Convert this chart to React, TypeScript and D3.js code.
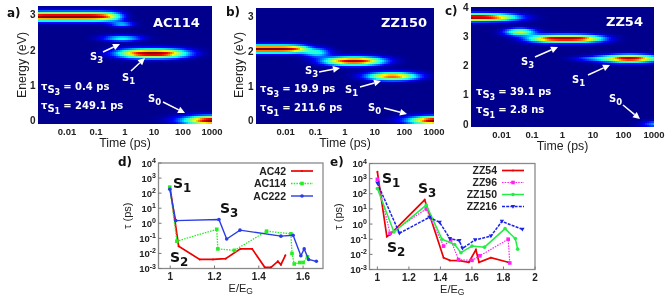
import React from "react";
import * as d3 from "d3";

type Blob = [number, number, number, number, number, number];
// [log10 time centre, energy, time half-width, energy sigma, amplitude, flatness]
const blobsA: Blob[] = [
  [-2.0, 2.95, 1.9, 0.09, 1.0, 6],
  [-0.1, 2.73, 0.45, 0.055, 0.3, 2],
  [-0.1, 2.33, 0.75, 0.06, 0.38, 2],
  [0.95, 1.9, 1.3, 0.09, 1.0, 2.6],
  [3.0, 0.0, 1.1, 0.09, 1.0, 2],
];
const blobsB: Blob[] = [
  [-2.6, 2.07, 1.4, 0.08, 1.0, 5],
  [-0.95, 1.97, 0.5, 0.09, 0.4, 2],
  [0.3, 1.72, 1.1, 0.085, 0.95, 2.4],
  [1.6, 1.28, 0.95, 0.08, 0.82, 2.2],
  [3.05, 0.0, 1.0, 0.085, 1.0, 2],
];
const blobsC: Blob[] = [
  [-3.0, 3.65, 1.6, 0.09, 1.0, 3],
  [-1.4, 3.15, 0.55, 0.085, 0.6, 2],
  [0.1, 2.92, 1.3, 0.09, 0.98, 3],
  [2.2, 2.24, 1.05, 0.09, 0.97, 2],
  [0.9, 2.24, 0.7, 0.05, 0.15, 2],
  [3.1, 0.0, 0.55, 0.08, 0.28, 2],
];

const timeTicks = [0.01, 0.1, 1, 10, 100, 1000];
const ac42E = [1, 1.038, 1.133, 1.193, 1.25, 1.317, 1.37, 1.427, 1.455, 1.486, 1.5, 1.52];
const ac42T = [200, 0.03, 0.004, 0.004, 0.0045, 0.02, 0.02, 0.0012, 0.0012, 0.003, 0.0018, 0.0075];
const ac114E = [0.998, 1.03, 1.21, 1.215, 1.29, 1.435, 1.545, 1.55, 1.56, 1.585, 1.6, 1.62];
const ac114T = [250, 0.065, 0.4, 0.02, 0.016, 0.3, 0.2, 0.01, 0.002, 0.0025, 0.0025, 0.006];
const ac222E = [0.998, 1.025, 1.22, 1.255, 1.315, 1.5, 1.555, 1.59, 1.605, 1.625, 1.66];
const ac222T = [180, 1.5, 1.8, 0.09, 0.35, 0.14, 0.16, 0.007, 0.02, 0.004, 0.003];
const zz54E = [1, 1.06, 1.08, 1.3, 1.42, 1.46, 1.52, 1.58, 1.625, 1.645, 1.72, 1.83];
const zz54T = [2800, 0.15, 0.2, 40, 0.006, 0.004, 0.0038, 0.003, 0.02, 0.003, 0.006, 0.003];
const zz96E = [1, 1.08, 1.31, 1.42, 1.465, 1.515, 1.6, 1.65, 1.83, 1.84];
const zz96T = [900, 0.25, 10, 0.035, 0.09, 0.0045, 0.004, 0.008, 0.1, 0.0027];
const zz150E = [1, 1.105, 1.31, 1.41, 1.49, 1.53, 1.6, 1.68, 1.81, 1.875, 1.89];
const zz150T = [220, 0.3, 18, 0.1, 0.045, 0.013, 0.035, 0.03, 0.5, 0.11, 0.022];
const zz216E = [1, 1.14, 1.33, 1.395, 1.46, 1.52, 1.54, 1.62, 1.72, 1.79, 1.92];
const zz216T = [500, 0.25, 2.8, 1.3, 0.11, 0.08, 0.025, 0.09, 0.16, 1.5, 0.45];
const tauExponents = [-3, -2, -1, 0, 1, 2, 3, 4];

const jet = d3
  .scaleLinear<string>()
  .domain([0, 0.12, 0.36, 0.52, 0.68, 0.88, 1])
  .range(["#00008c", "#0000ff", "#00ffff", "#7fff7f", "#ffff00", "#ff0000", "#800000"])
  .clamp(true);

const sans = "'Liberation Sans', Arial, sans-serif";
const dejavu = "'DejaVu Sans', sans-serif";
const W = "#ffffff";

function Heat(p: {
  x0: number; x1: number; y0: number; y1: number; eTop: number; eBottom: number;
  blobs: Blob[]; eTicks: number[];
}) {
  const x = d3.scaleLog().domain([0.001, 1000]).range([p.x0, p.x1]);
  const y = d3.scaleLinear().domain([p.eBottom, p.eTop]).range([p.y1, p.y0]);
  const step = 2;
  const cells: React.ReactNode[] = [];
  for (const px of d3.range(p.x0, p.x1, step)) {
    for (const py of d3.range(p.y0, p.y1, step)) {
      const lt = Math.log10(x.invert(px + step / 2));
      const e = y.invert(py + step / 2);
      let v = 0;
      for (const [c, en, sx, sy, a, f] of p.blobs) {
        const dx = Math.abs(lt - c) / sx;
        const dy = (e - en) / sy;
        v += a * Math.exp(-Math.pow(dx, f) * Math.LN2 * 2 - 0.5 * dy * dy);
      }
      cells.push(
        <rect key={`${px}-${py}`} x={px} y={py} width={Math.min(step + 0.3, p.x1 - px)} height={Math.min(step + 0.3, p.y1 - py)} fill={jet(v)} />
      );
    }
  }
  return (
    <g>
      <g shapeRendering="crispEdges">{cells}</g>
      {timeTicks.map((t) => (
        <text key={t} x={x(t)} y={p.y1 + 11} textAnchor="middle" fontFamily={sans} fontWeight="bold" fontSize={9.5} fill="#222">
          {t}
        </text>
      ))}
      {p.eTicks.map((t) => (
        <text key={t} x={p.x0 - 2.5} y={y(t) + 3.5} textAnchor="end" fontFamily={sans} fontWeight="bold" fontSize={10} fill="#222">
          {t}
        </text>
      ))}
      <text x={(p.x0 + p.x1) / 2} y={p.y1 + 23} textAnchor="middle" fontFamily={sans} fontSize={12.3} fill="#222">
        Time (ps)
      </text>
    </g>
  );
}

function Arrow({ a, b }: { a: [number, number]; b: [number, number] }) {
  const ang = Math.atan2(b[1] - a[1], b[0] - a[0]);
  const L = 7, Wd = 3.4;
  const ux = Math.cos(ang), uy = Math.sin(ang);
  const bx = b[0] - ux * L, by = b[1] - uy * L;
  return (
    <g>
      <line x1={a[0]} y1={a[1]} x2={bx} y2={by} stroke={W} strokeWidth={1.5} />
      <polygon points={`${b[0]},${b[1]} ${bx - uy * Wd},${by + ux * Wd} ${bx + uy * Wd},${by - ux * Wd}`} fill={W} />
    </g>
  );
}

function SLabel({ x, y, n, size = 10, fill = W }: { x: number; y: number; n: number; size?: number; fill?: string }) {
  return (
    <text x={x} y={y} fontFamily={dejavu} fontWeight="bold" fontSize={size} fill={fill}>
      S<tspan dy={size * 0.3} fontSize={size * 0.85}>{n}</tspan>
    </text>
  );
}

function Tau({ x, y, n, rest }: { x: number; y: number; n: number; rest: string }) {
  return (
    <text x={x} y={y} fontFamily={dejavu} fontWeight="bold" fontSize={10} fill={W}>
      τ<tspan dy={2.5} fontSize={10}>S</tspan><tspan dy={2} fontSize={8}>{n}</tspan>
      <tspan dy={-4.5} dx={3}>{rest}</tspan>
    </text>
  );
}

type Series = { name: string; e: number[]; t: number[]; color: string; dash?: string; sym: "plus" | "square" | "circle" | "tri"; sw: number };

const seriesD: Series[] = [
  { name: "AC42", e: ac42E, t: ac42T, color: "#ee0000", sym: "plus", sw: 1.7 },
  { name: "AC114", e: ac114E, t: ac114T, color: "#22ee22", dash: "1.5 1.2", sym: "square", sw: 1.3 },
  { name: "AC222", e: ac222E, t: ac222T, color: "#2a3be8", sym: "circle", sw: 1.4 },
];
const seriesE: Series[] = [
  { name: "ZZ54", e: zz54E, t: zz54T, color: "#ee0000", sym: "plus", sw: 1.7 },
  { name: "ZZ96", e: zz96E, t: zz96T, color: "#ff22ee", dash: "1.5 1.2", sym: "square", sw: 1.2 },
  { name: "ZZ150", e: zz150E, t: zz150T, color: "#22ee44", sym: "circle", sw: 1.5 },
  { name: "ZZ216", e: zz216E, t: zz216T, color: "#1a22e8", dash: "3 1.2", sym: "tri", sw: 1.5 },
];

function Marker({ x, y, s }: { x: number; y: number; s: Series }) {
  if (s.sym === "plus") return <circle cx={x} cy={y} r={1} fill={s.color} />;
  if (s.sym === "square") return <rect x={x - 1.8} y={y - 1.8} width={3.6} height={3.6} fill={s.color} />;
  if (s.sym === "circle") return <circle cx={x} cy={y} r={1.8} fill={s.color} />;
  return <polygon points={`${x - 2.2},${y - 1.6} ${x + 2.2},${y - 1.6} ${x},${y + 2.2}`} fill={s.color} />;
}

function LinePanel(p: {
  x0: number; x1: number; y0: number; y1: number; dom: [number, number]; ticks: number[];
  series: Series[]; legX: number; legY: number; legDy: number; clipId: string;
}) {
  const x = d3.scaleLinear().domain(p.dom).range([p.x0, p.x1]);
  const y = d3.scaleLog().domain([1e-3, 1e4]).range([p.y1, p.y0]);
  return (
    <g>
      <clipPath id={p.clipId}>
        <rect x={p.x0} y={p.y0} width={p.x1 - p.x0} height={p.y1 - p.y0} />
      </clipPath>
      <rect x={p.x0} y={p.y0} width={p.x1 - p.x0} height={p.y1 - p.y0} fill="none" stroke="#8a8a8a" strokeWidth={1.3} />
      {p.ticks.map((t) => (
        <g key={t}>
          <line x1={x(t)} x2={x(t)} y1={p.y1} y2={p.y1 - 3} stroke="#777" />
          <text x={x(t)} y={p.y1 + 11.5} textAnchor="middle" fontFamily={sans} fontWeight="bold" fontSize={10} fill="#222">{t}</text>
        </g>
      ))}
      {tauExponents.map((k) => (
        <g key={k}>
          <line x1={p.x0} x2={p.x0 + 3} y1={y(Math.pow(10, k))} y2={y(Math.pow(10, k))} stroke="#777" />
          <text x={p.x0 - 2.5} y={y(Math.pow(10, k)) + 3.5} textAnchor="end" fontFamily={sans} fontWeight="bold" fontSize={9.5} fill="#222">
            10<tspan dy={-3.5} fontSize={7}>{k}</tspan>
          </text>
        </g>
      ))}
      <g clipPath={`url(#${p.clipId})`}>
        {p.series.map((s) => {
          const d = d3
            .line<number>()
            .x((_, i) => x(s.e[i]))
            .y((_, i) => y(s.t[i]))(s.e);
          return (
            <g key={s.name}>
              <path d={d ?? ""} fill="none" stroke={s.color} strokeWidth={s.sw} strokeDasharray={s.dash} />
              {s.e.map((e, i) => (
                <Marker key={i} x={x(e)} y={y(s.t[i])} s={s} />
              ))}
            </g>
          );
        })}
      </g>
      {p.series.map((s, i) => {
        const ly = p.legY + i * p.legDy;
        return (
          <g key={s.name}>
            <text x={p.legX} y={ly + 3.5} textAnchor="end" fontFamily={sans} fontWeight="bold" fontSize={10.5} fill="#222">{s.name}</text>
            <line x1={p.legX + 5} x2={p.legX + 27} y1={ly} y2={ly} stroke={s.color} strokeWidth={s.sw} strokeDasharray={s.dash} />
            <Marker x={p.legX + 16} y={ly} s={s} />
          </g>
        );
      })}
      <text x={(p.x0 + p.x1) / 2} y={p.y1 + 23} textAnchor="middle" fontFamily={sans} fontSize={11} fill="#222">
        E/E<tspan dy={2.5} fontSize={8.5}>G</tspan>
      </text>
      <text transform={`translate(${p.x0 - 28},${(p.y0 + p.y1) / 2}) rotate(-90)`} textAnchor="middle" fontFamily={sans} fontSize={11} fill="#222">
        τ (ps)
      </text>
    </g>
  );
}

const panelLetter = (t: string, x: number, y: number) => (
  <text x={x} y={y} fontFamily={dejavu} fontWeight="bold" fontSize={12} fill="#111">{t}</text>
);

export default function App() {
  return (
    <svg width={672} height={300} style={{ position: "absolute", left: 0, top: 0, background: "#fff", filter: "blur(0.3px)" }}>
      <Heat x0={38} x1={212} y0={6} y1={124} eTop={3.25} eBottom={-0.1} blobs={blobsA} eTicks={[0, 1, 2, 3]} />
      <Heat x0={256} x1={434} y0={8} y1={124} eTop={3.26} eBottom={-0.1} blobs={blobsB} eTicks={[0, 1, 2, 3]} />
      <Heat x0={471} x1={654} y0={7} y1={127} eTop={4.0} eBottom={-0.1} blobs={blobsC} eTicks={[0, 1, 2, 3, 4]} />

      <text transform="translate(26,65) rotate(-90)" textAnchor="middle" fontFamily={sans} fontSize={12.4} fill="#222">Energy (eV)</text>
      <text transform="translate(243,65) rotate(-90)" textAnchor="middle" fontFamily={sans} fontSize={12.4} fill="#222">Energy (eV)</text>

      {panelLetter("a)", 7, 17)}
      {panelLetter("b)", 226, 16)}
      {panelLetter("c)", 445, 15)}
      {panelLetter("d)", 118, 166)}
      {panelLetter("e)", 330, 166)}

      <text x={153} y={27} fontFamily={dejavu} fontWeight="bold" fontSize={13} fill={W}>AC114</text>
      <text x={381} y={27} fontFamily={dejavu} fontWeight="bold" fontSize={13} fill={W}>ZZ150</text>
      <text x={606} y={26} fontFamily={dejavu} fontWeight="bold" fontSize={13} fill={W}>ZZ54</text>

      <SLabel x={90} y={60} n={3} />
      <SLabel x={122} y={81} n={1} />
      <SLabel x={148} y={102} n={0} />
      <Arrow a={[103, 52]} b={[120, 44]} />
      <Arrow a={[131, 71]} b={[145, 58]} />
      <Arrow a={[163, 102]} b={[185, 113]} />
      <Tau x={41} y={90} n={3} rest="= 0.4 ps" />
      <Tau x={41} y={109} n={1} rest="= 249.1 ps" />

      <SLabel x={305} y={74} n={3} />
      <SLabel x={345} y={93} n={1} />
      <SLabel x={368} y={111} n={0} />
      <Arrow a={[319, 72]} b={[340, 68]} />
      <Arrow a={[360, 87]} b={[381, 81]} />
      <Arrow a={[384, 108]} b={[407, 114]} />
      <Tau x={260} y={92} n={3} rest="= 19.9 ps" />
      <Tau x={260} y={111} n={1} rest="= 211.6 ps" />

      <SLabel x={521} y={65} n={3} />
      <SLabel x={572} y={83} n={1} />
      <SLabel x={609} y={102} n={0} />
      <Arrow a={[535, 57]} b={[558, 47]} />
      <Arrow a={[588, 75]} b={[610, 65]} />
      <Arrow a={[623, 105]} b={[640, 119]} />
      <Tau x={476} y={95} n={3} rest="= 39.1 ps" />
      <Tau x={476} y={113} n={1} rest="= 2.8 ns" />

      <LinePanel x0={158.5} x1={323} y0={163} y1={268.5} dom={[0.947, 1.69]} ticks={[1, 1.2, 1.4, 1.6]} series={seriesD} legX={286} legY={171} legDy={12.5} clipId="cd" />
      <LinePanel x0={369.5} x1={535} y0={163.5} y1={269.5} dom={[0.95, 2]} ticks={[1, 1.2, 1.4, 1.6, 1.8, 2]} series={seriesE} legX={497} legY={170.5} legDy={12} clipId="ce" />

      <SLabel x={173} y={188} n={1} size={14} fill="#111" />
      <SLabel x={220} y={213} n={3} size={14} fill="#111" />
      <SLabel x={170} y={262} n={2} size={14} fill="#111" />
      <SLabel x={382} y={183} n={1} size={14} fill="#111" />
      <SLabel x={418} y={193} n={3} size={14} fill="#111" />
      <SLabel x={387} y={252} n={2} size={14} fill="#111" />
    </svg>
  );
}
